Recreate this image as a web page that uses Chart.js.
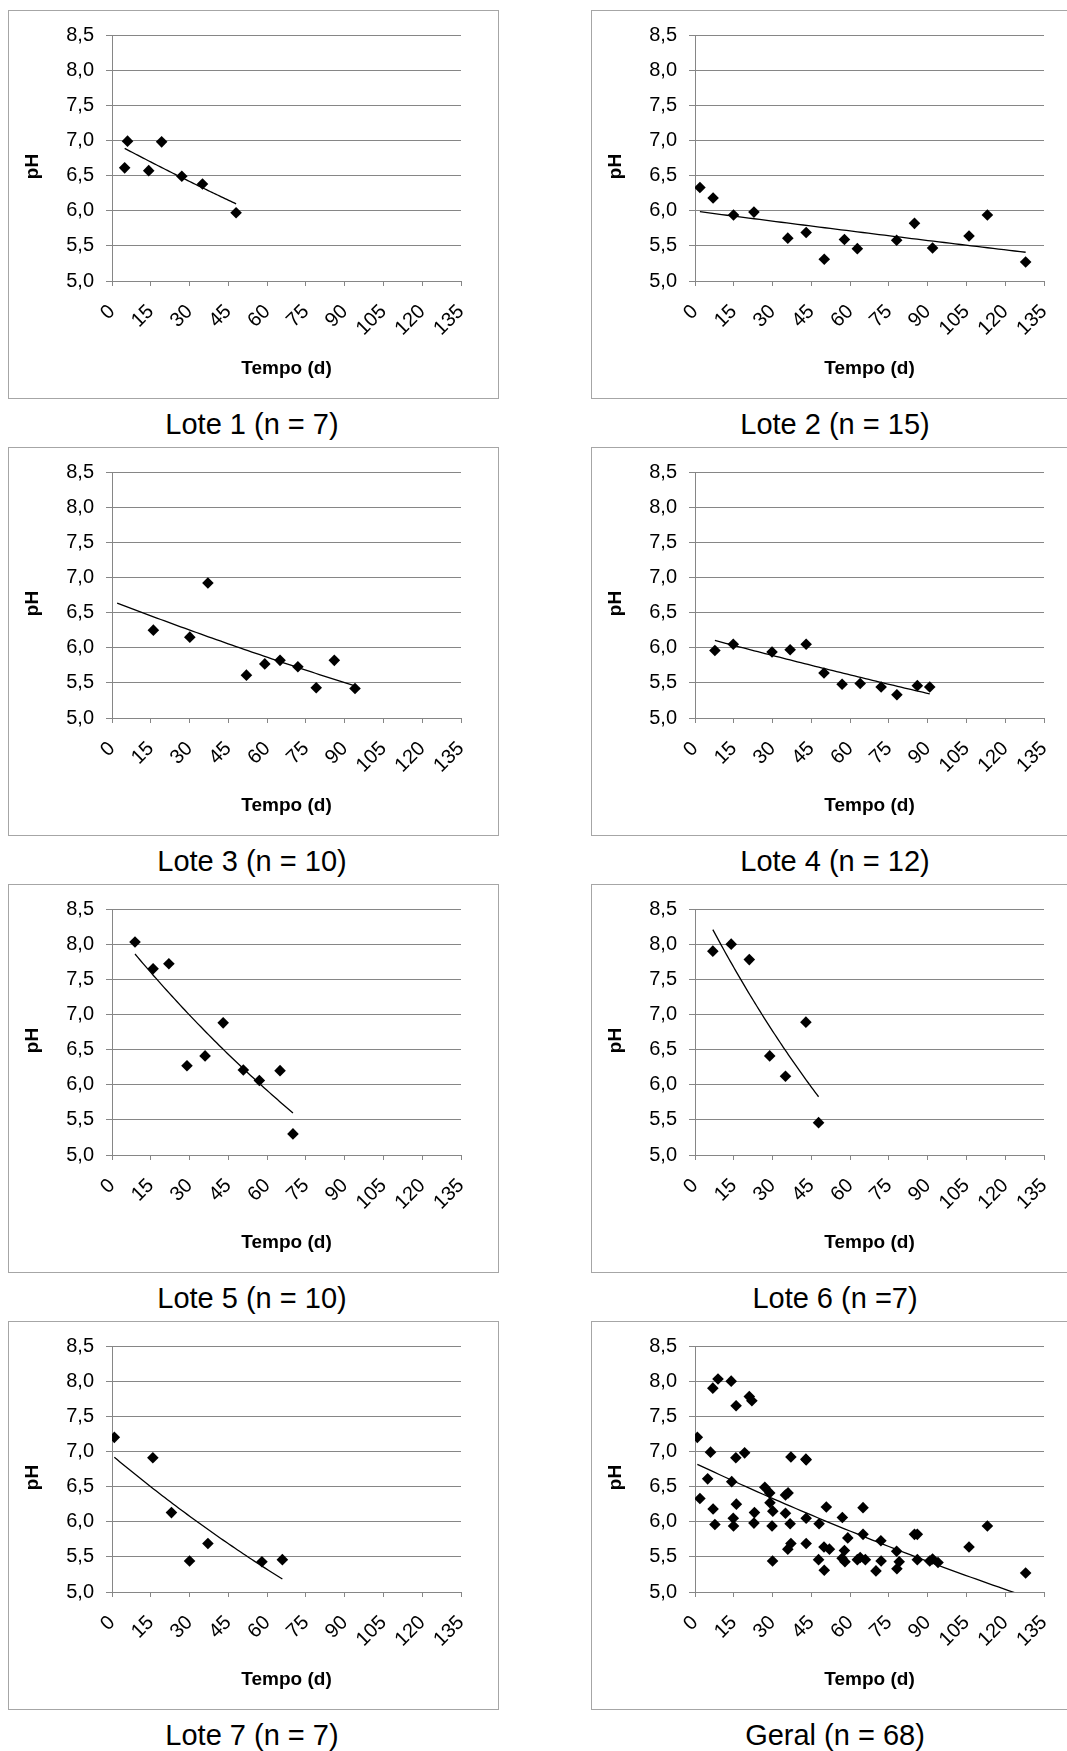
<!DOCTYPE html>
<html>
<head>
<meta charset="utf-8">
<script src="https://cdn.jsdelivr.net/npm/chart.js@4.4.0/dist/chart.umd.min.js"></script>
<style>
  html, body { margin: 0; padding: 0; background: #fff; }
  body { width: 1067px; height: 1751px; position: relative; overflow: hidden; font-family: "Liberation Sans", Arial, sans-serif; }
  .painel { position: absolute; width: 491px; height: 389px; border: 1px solid #a6a6a6; box-sizing: border-box; background: #fff; }
  .legenda { position: absolute; width: 488px; text-align: center; font-size: 29px; line-height: 29px; color: #000; white-space: nowrap; }
</style>
</head>
<body>
<script>
// tempo (dias) e pH de cada lote
const lote1Dias = [4.9, 6.0, 14.2, 19.2, 27.0, 35.0, 48.0];
const lote1PH   = [6.61, 6.99, 6.57, 6.98, 6.49, 6.38, 5.97];

const lote2Dias = [1.9, 7.0, 14.9, 22.8, 35.9, 43.0, 50.0, 57.8, 62.8, 78.0, 84.9, 91.9, 106.0, 113.1, 127.9];
const lote2PH   = [6.33, 6.18, 5.94, 5.98, 5.61, 5.69, 5.31, 5.59, 5.46, 5.58, 5.82, 5.47, 5.64, 5.94, 5.27];

const lote3Dias = [16.0, 30.1, 37.1, 52.0, 59.1, 65.0, 71.9, 79.0, 86.0, 94.0];
const lote3PH   = [6.25, 6.15, 6.92, 5.61, 5.77, 5.82, 5.73, 5.43, 5.82, 5.42];

const lote4Dias = [7.7, 14.8, 29.8, 36.8, 43.0, 49.9, 56.9, 63.9, 72.0, 78.1, 86.0, 90.8];
const lote4PH   = [5.96, 6.05, 5.94, 5.97, 6.05, 5.64, 5.48, 5.49, 5.44, 5.33, 5.46, 5.44];

const lote5Dias = [8.9, 15.9, 22.0, 29.0, 36.0, 43.0, 50.8, 57.0, 65.0, 70.0];
const lote5PH   = [8.03, 7.65, 7.72, 6.27, 6.41, 6.88, 6.21, 6.06, 6.20, 5.30];

const lote6Dias = [6.9, 14.0, 21.0, 28.9, 35.0, 42.9, 47.8];
const lote6PH   = [7.90, 8.00, 7.78, 6.41, 6.12, 6.89, 5.46];

const lote7Dias = [0.9, 15.8, 23.0, 30.0, 37.1, 58.0, 65.9];
const lote7PH   = [7.20, 6.91, 6.13, 5.44, 5.69, 5.43, 5.46];

// geral = todos os lotes juntos (n = 68)
const geralDias = [].concat(lote1Dias, lote2Dias, lote3Dias, lote4Dias, lote5Dias, lote6Dias, lote7Dias);
const geralPH   = [].concat(lote1PH, lote2PH, lote3PH, lote4PH, lote5PH, lote6PH, lote7PH);

const legendas = ['Lote 1 (n = 7)', 'Lote 2 (n = 15)', 'Lote 3 (n = 10)', 'Lote 4 (n = 12)',
                  'Lote 5 (n = 10)', 'Lote 6 (n =7)', 'Lote 7 (n = 7)', 'Geral (n = 68)'];
const diasPorLote = [lote1Dias, lote2Dias, lote3Dias, lote4Dias, lote5Dias, lote6Dias, lote7Dias, geralDias];
const phPorLote   = [lote1PH, lote2PH, lote3PH, lote4PH, lote5PH, lote6PH, lote7PH, geralPH];
// previsão para trás da linha de tendência (dias)
const recuoTendencia = [0, 0, 14, 0, 0, 0, 0, 0];

const ticksX = [0, 15, 30, 45, 60, 75, 90, 105, 120, 135];
const ticksY = [5.0, 5.5, 6.0, 6.5, 7.0, 7.5, 8.0, 8.5];

const fonte = '"Liberation Sans", Arial, sans-serif';
const cinza = '#868686';

// tendência exponencial (igual ao Excel): ln(y) = ln(a) + b*x
function tendenciaExp(xs, ys, recuo) {
  const n = xs.length;
  const ls = ys.map(v => Math.log(v));
  const mx = xs.reduce((s, v) => s + v, 0) / n;
  const ml = ls.reduce((s, v) => s + v, 0) / n;
  let sxy = 0, sxx = 0;
  for (let i = 0; i < n; i++) {
    sxy += (xs[i] - mx) * (ls[i] - ml);
    sxx += (xs[i] - mx) * (xs[i] - mx);
  }
  const b = sxy / sxx;
  const a = Math.exp(ml - b * mx);
  const x0 = Math.min(...xs) - recuo, x1 = Math.max(...xs);
  const pts = [];
  for (let k = 0; k <= 60; k++) {
    const x = x0 + (x1 - x0) * k / 60;
    pts.push({ x: x, y: a * Math.exp(b * x) });
  }
  return pts;
}

const tituloPH = {
  id: 'tituloPH',
  afterDraw(chart) {
    const { ctx, chartArea } = chart;
    ctx.save();
    ctx.translate(24, (chartArea.top + chartArea.bottom) / 2 + 8.5);
    ctx.rotate(-Math.PI / 2);
    ctx.font = 'bold 19px ' + fonte;
    ctx.fillStyle = '#000';
    ctx.textAlign = 'center';
    ctx.textBaseline = 'middle';
    ctx.fillText('pH', 0, 0);
    ctx.restore();
  }
};

const colunas = [8, 591];
const linhas = [10, 447, 884, 1321];

legendas.forEach((texto, i) => {
  const left = colunas[i % 2];
  const top = linhas[Math.floor(i / 2)];

  const painel = document.createElement('div');
  painel.className = 'painel';
  painel.style.left = left + 'px';
  painel.style.top = top + 'px';
  const canvas = document.createElement('canvas');
  painel.appendChild(canvas);
  document.body.appendChild(painel);

  const leg = document.createElement('div');
  leg.className = 'legenda';
  leg.style.left = left + 'px';
  leg.style.top = (top + 400) + 'px';
  leg.textContent = texto;
  document.body.appendChild(leg);

  const xs = diasPorLote[i], ys = phPorLote[i];
  const pontos = xs.map((x, k) => ({ x: x, y: ys[k] }));

  new Chart(canvas, {
    type: 'scatter',
    data: {
      datasets: [
        {
          data: pontos,
          pointStyle: 'rectRot',
          pointRadius: 5.8,
          backgroundColor: '#000',
          borderColor: '#000',
          borderWidth: 0,
          order: 1
        },
        {
          data: tendenciaExp(xs, ys, recuoTendencia[i]),
          showLine: true,
          pointRadius: 0,
          borderColor: '#000',
          borderWidth: 1.3,
          fill: false,
          order: 0
        }
      ]
    },
    options: {
      animation: false,
      responsive: true,
      maintainAspectRatio: false,
      events: [],
      layout: { padding: { top: 18, right: 37, left: 0, bottom: 0 } },
      plugins: { legend: { display: false }, tooltip: { enabled: false } },
      scales: {
        x: {
          type: 'linear',
          min: ticksX[0],
          max: ticksX[ticksX.length - 1],
          afterFit(s) { s.height = 117; },
          afterBuildTicks(s) { s.ticks = ticksX.map(v => ({ value: v })); },
          grid: { drawOnChartArea: false, drawTicks: true, tickLength: 5, color: cinza },
          border: { color: cinza },
          ticks: {
            minRotation: 45, maxRotation: 45, autoSkip: false, padding: 14,
            color: '#000', font: { family: fonte, size: 20 }
          },
          title: {
            display: true, text: 'Tempo (d)', color: '#000',
            font: { family: fonte, size: 19, weight: 'bold' },
            padding: { top: 0, bottom: 18 }
          }
        },
        y: {
          min: ticksY[0],
          max: ticksY[ticksY.length - 1],
          afterFit(s) { s.width = 103; },
          afterBuildTicks(s) { s.ticks = ticksY.map(v => ({ value: v })); },
          grid: { color: cinza, tickLength: 6 },
          border: { color: cinza },
          ticks: {
            padding: 12, color: '#000', font: { family: fonte, size: 20 },
            callback: v => v.toFixed(1).replace('.', ',')
          }
        }
      }
    },
    plugins: [tituloPH]
  });
});
</script>
</body>
</html>
